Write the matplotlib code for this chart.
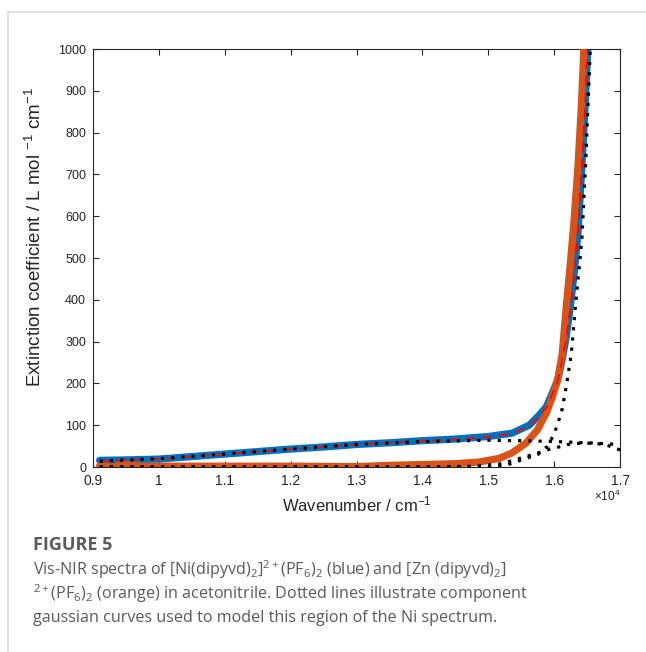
import matplotlib
matplotlib.use("Agg")
import matplotlib.pyplot as plt
from matplotlib.lines import Line2D

plt.rcParams['mathtext.default'] = 'regular'

# Ni complex (blue), wavenumber in 1e4 cm^-1
ni_x = [0.910, 0.95, 1.00, 1.05, 1.10, 1.15, 1.20, 1.25, 1.30, 1.35, 1.40, 1.45, 1.50, 1.536,
        1.562, 1.577, 1.588, 1.597, 1.605, 1.611, 1.618, 1.624, 1.630, 1.636, 1.642, 1.647, 1.652]
ni_y = [16, 17, 19, 25, 31, 37, 43, 48, 54, 58, 63, 67, 73, 81,
        100, 124, 144, 177, 208, 249, 310, 380, 460, 560, 720, 870, 1040]

# Zn complex (orange)
zn_x = [0.910, 0.93, 0.95, 0.97, 1.00, 1.10, 1.20, 1.30, 1.35, 1.40, 1.45, 1.486, 1.517, 1.536,
        1.557, 1.574, 1.588, 1.597, 1.605, 1.612, 1.618, 1.624, 1.630, 1.636, 1.641, 1.646]
zn_y = [3, 1, 6, 2, 2, 2, 2, 1, 4, 6, 8, 12, 21, 34,
        57, 88, 129, 167, 208, 270, 380, 480, 590, 720, 860, 1040]

# Total fit (red dashed)
fit_x = [0.910, 0.95, 1.00, 1.05, 1.10, 1.15, 1.20, 1.25, 1.30, 1.35, 1.40, 1.45, 1.50, 1.536,
         1.562, 1.577, 1.588, 1.597, 1.605, 1.611, 1.618, 1.624, 1.630, 1.636, 1.642, 1.647, 1.651]
fit_y = [15, 17, 19, 25, 31, 37, 43, 48, 54, 58, 62, 66, 72, 80,
         98, 122, 142, 174, 205, 247, 305, 375, 455, 560, 720, 870, 1040]

# Component gaussians (dotted)
g1_x = [0.910, 1.00, 1.10, 1.20, 1.30, 1.40, 1.50, 1.55, 1.60, 1.65, 1.70]
g1_y = [14, 20, 31, 43, 54, 61, 64, 63, 61, 58, 54]

g2_x = [0.910, 1.40, 1.48, 1.52, 1.559, 1.574, 1.589, 1.607, 1.626, 1.643, 1.661, 1.679, 1.694, 1.70]
g2_y = [0, 0, 2, 8, 26, 33, 41, 48, 56, 57, 57, 53, 44, 41]

g3_x = [0.910, 1.50, 1.528, 1.538, 1.55, 1.575, 1.59, 1.600, 1.607, 1.612, 1.618, 1.626, 1.632,
        1.637, 1.642, 1.648, 1.654, 1.657]
g3_y = [0, 0, 5, 10, 17, 30, 50, 80, 112, 139, 191, 273, 383, 464, 548, 740, 976, 1080]

x_ticks = [0.9, 1.0, 1.1, 1.2, 1.3, 1.4, 1.5, 1.6, 1.7]
x_tick_labels = ['0.9', '1', '1.1', '1.2', '1.3', '1.4', '1.5', '1.6', '1.7']
y_ticks = [0, 100, 200, 300, 400, 500, 600, 700, 800, 900, 1000]

BLUE = '#0072BD'
ORANGE = '#D95319'
TXT = '#262626'

fig = plt.figure(figsize=(6.46, 6.52), dpi=100)
ax = fig.add_axes([0.144, 0.2837, 0.816, 0.6411])

ax.plot(ni_x, ni_y, color=BLUE, lw=5.2, solid_capstyle='round', zorder=2)
ax.plot(zn_x, zn_y, color=ORANGE, lw=5.2, solid_capstyle='round', zorder=3)
ax.plot(fit_x, fit_y, color='#FF0000', lw=1.2, dashes=(6, 4), zorder=4)
for gx, gy in [(g1_x, g1_y), (g2_x, g2_y), (g3_x, g3_y)]:
    ax.plot(gx, gy, color='black', lw=2.3, dashes=(1, 2.2), zorder=5)

ax.set_xlim(0.9, 1.7)
ax.set_ylim(0, 1000)
ax.set_xticks(x_ticks)
ax.set_xticklabels(x_tick_labels)
ax.set_yticks(y_ticks)
ax.tick_params(direction='in', length=4, width=0.8, colors=TXT,
               top=True, right=True)
ax.tick_params(axis='x', labelsize=10, pad=5)
ax.tick_params(axis='y', labelsize=9, pad=5)
for lab in ax.get_xticklabels() + ax.get_yticklabels():
    lab.set_family('Liberation Sans')
for s in ax.spines.values():
    s.set_color(TXT)
    s.set_linewidth(0.8)

ax.set_xlabel('Wavenumber / cm$^{-1}$', fontsize=12, color=TXT, family='Liberation Sans', labelpad=5)
ax.set_ylabel('Extinction coefficient / L mol $^{-1}$ cm$^{-1}$', fontsize=13.5, color=TXT,
              family='Liberation Sans')
ax.yaxis.set_label_coords(-0.092, 0.55)
ax.text(1.0, -0.052, r'$\times$10$^{4}$', transform=ax.transAxes, ha='right', va='top',
        fontsize=8.5, color=TXT, family='Liberation Sans')

# frame lines of the card
fig.add_artist(Line2D([8/646, 1.0], [1 - 12/652, 1 - 12/652], color='#d9d9d9', lw=1.2))
fig.add_artist(Line2D([8/646, 8/646], [0.0, 1 - 12/652], color='#d9d9d9', lw=1.2))

CAP = '#5a5a5a'
fig.text(33/646, 1 - 545/652, 'FIGURE 5', fontsize=13, fontweight='bold', color=CAP,
         family='Open Sans', va='center')
cap_lines = [
    'Vis-NIR spectra of [Ni(dipyvd)$_2$]$^{2+}$(PF$_6$)$_2$ (blue) and [Zn (dipyvd)$_2$]',
    '$^{2+}$(PF$_6$)$_2$ (orange) in acetonitrile. Dotted lines illustrate component',
    'gaussian curves used to model this region of the Ni spectrum.',
]
for i, line in enumerate(cap_lines):
    fig.text(33/646, 1 - (570 + 24 * i)/652, line, fontsize=11.6, color=CAP,
             family='Open Sans', va='center')

fig.savefig('out.png', dpi=100)
